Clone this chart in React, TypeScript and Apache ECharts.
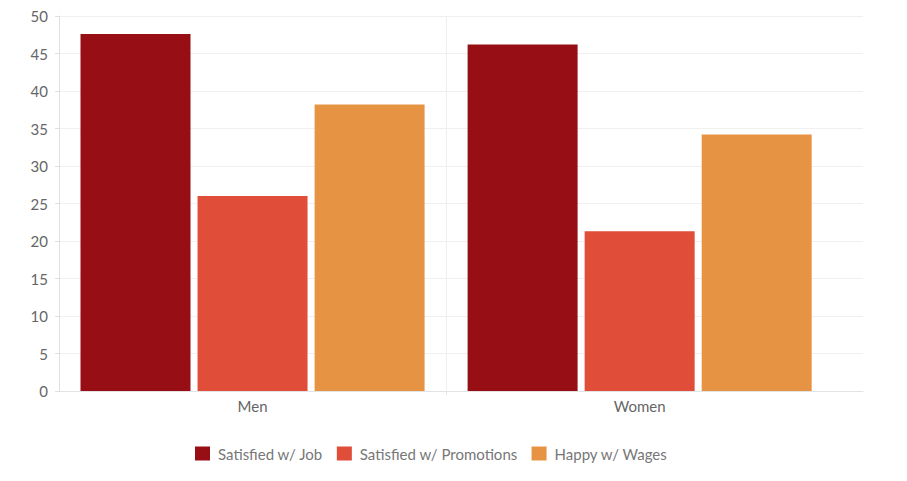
import React, { useEffect, useRef } from "react";
import * as echarts from "echarts";

const categories = ["Men", "Women"];
const seriesNames = ["Satisfied w/ Job", "Satisfied w/ Promotions", "Happy w/ Wages"];
const jobValues = [47.6, 46.2];
const promotionValues = [26.0, 21.3];
const wageValues = [38.2, 34.2];
const seriesColors = ["#970E14", "#E04D38", "#E69443"];
const yTicks = { min: 0, max: 50, interval: 5 };

export default function App() {
  const ref = useRef<HTMLDivElement>(null);
  useEffect(() => {
    if (!ref.current) return;
    const chart = echarts.init(ref.current, null, { renderer: "svg" });
    const values = [jobValues, promotionValues, wageValues];
    const font = "Lato, 'Open Sans', sans-serif";
    chart.setOption({
      animation: false,
      backgroundColor: "#ffffff",
      grid: { left: 59, right: 44, top: 16, bottom: 90 },
      legend: {
        left: 190,
        top: 441,
        itemWidth: 15,
        itemHeight: 14,
        itemGap: 14,
        icon: "rect",
        textStyle: { color: "#777", fontSize: 15, fontFamily: font, padding: [0, 0, 0, 3] },
        data: seriesNames,
      },
      xAxis: {
        type: "value",
        min: 0,
        max: 2.077,
        axisLine: { show: true, lineStyle: { color: "#e3e3e3" } },
        axisTick: { show: true, customValues: [1], length: 4, lineStyle: { color: "#e3e3e3" } },
        splitLine: { show: true, lineStyle: { color: "#eeeeee" } },
        axisLabel: {
          customValues: categories.map((_, i) => i + 0.5),
          formatter: (v: number) => categories[Math.round(v - 0.5)] ?? "",
          color: "#666",
          fontSize: 15,
          fontFamily: font,
          margin: 7,
        },
      },
      yAxis: {
        type: "value",
        min: yTicks.min,
        max: yTicks.max,
        interval: yTicks.interval,
        axisLine: { show: true, lineStyle: { color: "#e0e0e0" } },
        axisTick: { show: true, length: 4, lineStyle: { color: "#e0e0e0" } },
        splitLine: { show: true, lineStyle: { color: "#f0f0f0" } },
        axisLabel: { color: "#666", fontSize: 15, fontFamily: font, margin: 11 },
      },
      series: seriesNames.map((name, s) => ({
        name,
        type: "bar",
        barWidth: 110,
        barGap: "6.4%",
        itemStyle: { color: seriesColors[s] },
        data: categories.map((_, i) => [i + 0.5, values[s][i]]),
      })),
    });
    return () => chart.dispose();
  }, []);
  return (
    <div
      ref={ref}
      style={{ position: "fixed", left: 0, top: 0, width: 907, height: 481, background: "#fff" }}
    />
  );
}
